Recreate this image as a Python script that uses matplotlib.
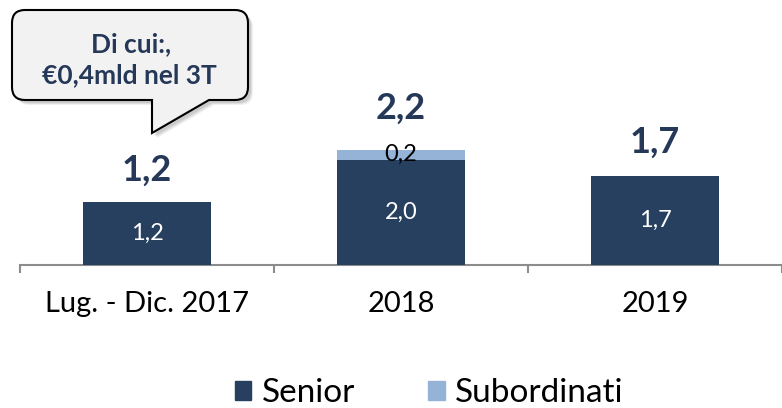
import matplotlib.pyplot as plt
from matplotlib.path import Path
from matplotlib.patches import PathPatch, Patch
import numpy as np

# data
categories = ['Lug. - Dic. 2017', '2018', '2019']
senior = [1.2, 2.0, 1.7]
subordinati = [0.0, 0.2, 0.0]
totals = [1.2, 2.2, 1.7]
callout_lines = ['Di cui:,', '€0,4mld nel 3T']

dark = '#27405F'
light = '#95B3D7'
text_dark = '#253858'
axis_grey = '#8C8C8C'

plt.rcParams['font.family'] = ['Lato', 'DejaVu Sans']

W, H = 782, 408
fig = plt.figure(figsize=(W / 100, H / 100), dpi=100)

# main axes: baseline at y=265px, categories 254px wide
ax = fig.add_axes([20 / W, 143 / H, 762 / W, 265 / H])
ax.set_xlim(-0.5, 2.5)
ax.set_ylim(0, 265 / 52.5)

x = np.arange(len(categories))
bw = 0.504
ax.bar(x, senior, bw, color=dark, zorder=3)
ax.bar(x, subordinati, bw, bottom=senior, color=light, zorder=3)

# value labels inside segments
for i in range(len(categories)):
    ax.text(x[i], senior[i] / 2, f'{senior[i]:.1f}'.replace('.', ','),
            ha='center', va='center', color='white', fontsize=17, zorder=4)
    if subordinati[i] > 0:
        ax.text(x[i], senior[i] + subordinati[i] / 2,
                f'{subordinati[i]:.1f}'.replace('.', ','),
                ha='center', va='center', color='black', fontsize=17, zorder=4)

# totals above bars
total_pad = [32, 41, 34]  # px above bar top
for i in range(len(categories)):
    ax.annotate(f'{totals[i]:.1f}'.replace('.', ','), (x[i], totals[i]),
                xytext=(0, total_pad[i] * 0.72), textcoords='offset points',
                ha='center', va='center', fontsize=26, fontweight='bold',
                color=text_dark, zorder=4)

for s in ['top', 'left', 'right']:
    ax.spines[s].set_visible(False)
ax.spines['bottom'].set_color(axis_grey)
ax.spines['bottom'].set_linewidth(1.5)
ax.set_yticks([])
ax.set_xticks(np.arange(-0.5, len(categories)), labels=[''] * (len(categories) + 1))
ax.tick_params(axis='x', which='major', length=6, width=1.5, color=axis_grey)
ax.set_xticks(x, labels=categories, minor=True)
ax.tick_params(axis='x', which='minor', length=0, pad=19, labelsize=21)

# callout overlay in pixel coordinates
ov = fig.add_axes([0, 0, 1, 1], zorder=5)
ov.set_xlim(0, W)
ov.set_ylim(H, 0)
ov.axis('off')


def bubble(x0, x1, y0, y1, r, tl, tr, tip):
    verts = [(x0 + r, y0), (x1 - r, y0), (x1, y0), (x1, y0 + r),
             (x1, y1 - r), (x1, y1), (x1 - r, y1),
             (tr, y1), tip, (tl, y1),
             (x0 + r, y1), (x0, y1), (x0, y1 - r),
             (x0, y0 + r), (x0, y0), (x0 + r, y0), (x0 + r, y0)]
    codes = [Path.MOVETO, Path.LINETO, Path.CURVE3, Path.CURVE3,
             Path.LINETO, Path.CURVE3, Path.CURVE3,
             Path.LINETO, Path.LINETO, Path.LINETO,
             Path.LINETO, Path.CURVE3, Path.CURVE3,
             Path.LINETO, Path.CURVE3, Path.CURVE3, Path.CLOSEPOLY]
    return Path(verts, codes)


for k, a in [(5, 0.12), (4, 0.15), (3, 0.2)]:
    sh = bubble(12 + k, 248 + k, 10 + k, 100 + k, 13, 152 + k, 209 + k, (152 + k, 133 + k))
    ov.add_patch(PathPatch(sh, facecolor='#7F7F7F', edgecolor='none', alpha=a))
ov.add_patch(PathPatch(bubble(12, 248, 10, 100, 13, 152, 209, (152, 133)),
                       facecolor='#F2F2F2', edgecolor='black', linewidth=1.5))
ov.text(131, 44, callout_lines[0], ha='center', va='center', fontsize=19,
        fontweight='bold', color=text_dark)
ov.text(129, 75, callout_lines[1], ha='center', va='center', fontsize=19,
        fontweight='bold', color=text_dark)

handles = [Patch(color=dark, label='Senior'), Patch(color=light, label='Subordinati')]
fig.legend(handles=handles, loc='center', bbox_to_anchor=(429 / W, 1 - 393 / H),
           ncol=2, frameon=False, fontsize=24, handlelength=0.5, handleheight=0.5,
           handletextpad=0.3, columnspacing=2.2)

fig.savefig('out.png', dpi=100)
